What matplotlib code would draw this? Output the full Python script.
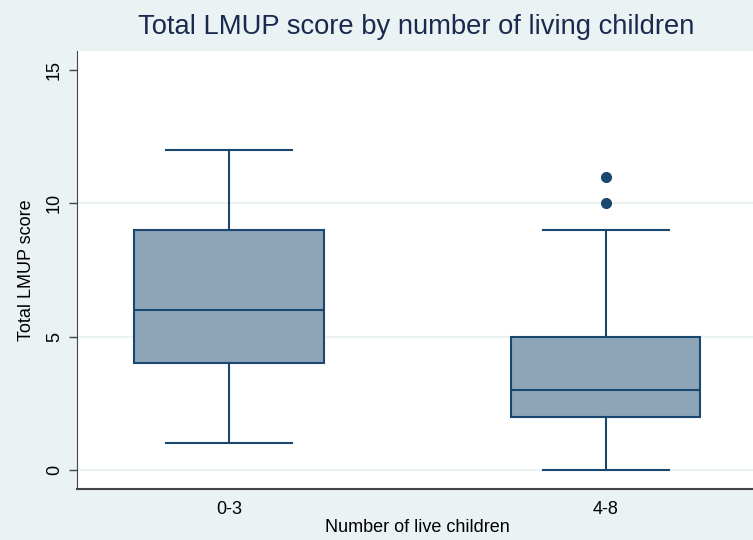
import matplotlib
matplotlib.use("Agg")
import matplotlib.pyplot as plt

categories = ["0-3", "4-8"]
whislo = [1, 0]
q1 = [4, 2]
med = [6, 3]
q3 = [9, 5]
whishi = [12, 9]
fliers = [[], [10, 11]]
yticks = [0, 5, 10, 15]

plt.rcParams['font.family'] = ['Liberation Sans', 'DejaVu Sans']

bg = '#EAF2F3'
navy = '#1A476F'
fill = '#8EA4B8'

fig = plt.figure(figsize=(7.53, 5.40), dpi=100, facecolor=bg)
ax = fig.add_axes([77/753, 51/540, 1 - 77/753, 1 - 51/540 - 51/540])
ax.set_facecolor('white')

stats = []
for i, c in enumerate(categories):
    stats.append(dict(label=c, whislo=whislo[i], q1=q1[i], med=med[i], q3=q3[i],
                      whishi=whishi[i], fliers=fliers[i]))

for yv in yticks[:-1]:
    ax.axhline(yv, color='#EAF2F3', lw=1.5, zorder=0)

ax.bxp(stats, positions=[1, 2], widths=0.503, patch_artist=True, showfliers=True,
       boxprops=dict(facecolor=fill, edgecolor=navy, linewidth=1.5),
       medianprops=dict(color=navy, linewidth=1.5),
       whiskerprops=dict(color=navy, linewidth=1.5),
       capprops=dict(color=navy, linewidth=1.5),
       capwidths=0.335,
       flierprops=dict(marker='o', markerfacecolor=navy, markeredgecolor=navy, markersize=7))

ax.set_xlim(0.596, 2.391)
ax.set_ylim(-0.71, 15.71)
ax.set_yticks(yticks)
ax.set_yticklabels([str(v) for v in yticks], rotation=90, va='center', fontsize=13)
ax.tick_params(axis='y', length=6, width=1, color='#444444', pad=4)
ax.tick_params(axis='x', length=0, labelsize=13, pad=9)
ax.spines['top'].set_visible(False)
ax.spines['right'].set_visible(False)
ax.spines['left'].set_color('#444444')
ax.spines['bottom'].set_color('#444444')
ax.spines['bottom'].set_linewidth(1.5)

ax.set_ylabel('Total LMUP score', fontsize=13, labelpad=8)
fig.text(417/753, 13/540, 'Number of live children', ha='center', va='center', fontsize=13)
fig.text(416/753, 1 - 27/540, 'Total LMUP score by number of living children', ha='center', va='center',
         fontsize=19.7, color='#1A2A4F')

fig.savefig('out.png', dpi=100, facecolor=bg)
